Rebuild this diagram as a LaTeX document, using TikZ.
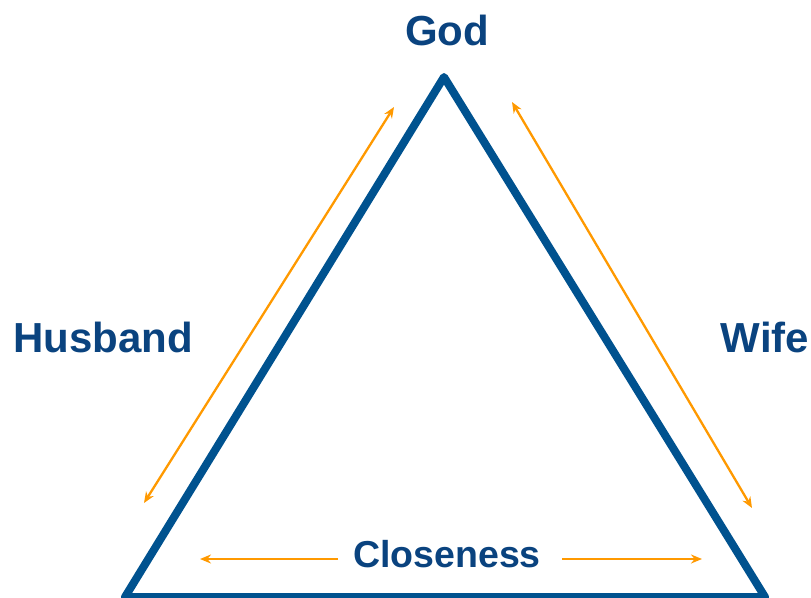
\documentclass[tikz,border=0pt]{standalone}
\usepackage{fontspec}
\setmainfont{Liberation Sans}
\usetikzlibrary{arrows.meta}
\definecolor{txtblue}{HTML}{0A437F}
\definecolor{triblue}{HTML}{00528F}
\definecolor{arrorange}{HTML}{FF9900}
\tikzset{
  lbl/.style={text=txtblue, font=\bfseries\fontsize{42}{48}\selectfont, anchor=base, inner sep=0pt},
  lblsmall/.style={text=txtblue, font=\bfseries\fontsize{37.5}{42}\selectfont, anchor=base, inner sep=0pt},
  tri/.style={draw=triblue, line width=8pt, line join=round},
  oarrow/.style={draw=arrorange, line width=2.3pt, {Stealth[length=11pt,width=9pt]}-{Stealth[length=11pt,width=9pt]}},
  oarrowone/.style={draw=arrorange, line width=2.3pt, -{Stealth[length=11pt,width=9pt]}}
}
\begin{document}
\begin{tikzpicture}[x=1pt,y=-1pt]
\useasboundingbox (0,0) rectangle (811,597);
\clip (0,0) rectangle (811,597);
% triangle corners
\coordinate (apex) at (444,77);
\coordinate (bl) at (125,597);
\coordinate (br) at (765,597);
\draw[tri] (apex) -- (br) -- (bl) -- cycle;
% labels
\node[lbl] (god) at (447,45) {God};
\node[lbl] (husband) at (103,352) {Husband};
\node[lbl] (wife) at (765,352) {Wife};
\node[lblsmall] (close) at (447,567) {Closeness};
% arrow end points
\coordinate (hl1) at (394,107);
\coordinate (hl2) at (144,503);
\coordinate (wr1) at (512,102);
\coordinate (wr2) at (752,508);
\coordinate (cl1) at (338,559);
\coordinate (cl2) at (200,559);
\coordinate (cr1) at (562,559);
\coordinate (cr2) at (702,559);
\draw[oarrow] (hl2) -- (hl1);
\draw[oarrow] (wr1) -- (wr2);
\draw[oarrowone] (cl1) -- (cl2);
\draw[oarrowone] (cr1) -- (cr2);
\end{tikzpicture}
\end{document}
